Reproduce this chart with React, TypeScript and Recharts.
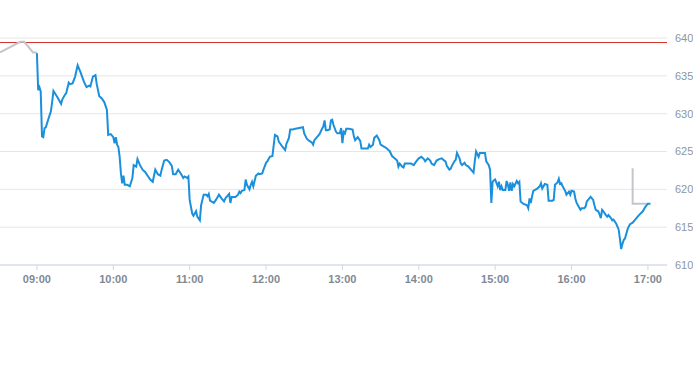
import { LineChart, Line, XAxis, YAxis, CartesianGrid, ReferenceLine } from 'recharts'

// pre-market (grey), main session (blue), after-hours (grey)
const preMarket: [string, number][] = [
  ['08:31', 638.1], ['08:47', 639.5], ['08:50', 639.5], ['08:57', 638.1], ['09:00', 638.1],
]

const session: [string, number][] = [
  ['09:00', 638.0], ['09:01', 633.1], ['09:02', 633.5], ['09:03', 632.9], ['09:04', 627.0],
  ['09:05', 626.9], ['09:06', 628.1], ['09:07', 628.2], ['09:09', 629.3], ['09:11', 630.3],
  ['09:12', 631.6], ['09:13', 633.0], ['09:16', 632.2], ['09:19', 631.3], ['09:20', 631.9],
  ['09:22', 632.5], ['09:23', 632.7], ['09:25', 634.1], ['09:26', 633.9], ['09:28', 634.0],
  ['09:30', 634.9], ['09:32', 636.4], ['09:34', 635.6], ['09:37', 634.2], ['09:39', 633.5],
  ['09:41', 633.7], ['09:42', 633.6], ['09:44', 634.9], ['09:46', 635.1], ['09:47', 633.9],
  ['09:49', 632.3], ['09:51', 632.0], ['09:53', 631.5], ['09:55', 630.5], ['09:56', 627.2],
  ['09:58', 627.3], ['10:00', 626.9], ['10:01', 626.1], ['10:02', 626.9], ['10:03', 625.9],
  ['10:04', 625.6], ['10:05', 624.3], ['10:06', 622.1], ['10:07', 620.8], ['10:08', 621.8],
  ['10:09', 620.6], ['10:11', 620.6], ['10:13', 620.4], ['10:15', 621.5], ['10:16', 623.2],
  ['10:18', 623.0], ['10:19', 624.0], ['10:21', 623.2], ['10:23', 622.6], ['10:25', 622.3],
  ['10:27', 621.8], ['10:29', 621.3], ['10:31', 621.0], ['10:33', 622.6], ['10:35', 622.0],
  ['10:37', 621.8], ['10:38', 622.6], ['10:40', 623.8], ['10:42', 623.9], ['10:44', 623.6],
  ['10:46', 623.1], ['10:47', 622.0], ['10:49', 622.0], ['10:51', 622.6], ['10:53', 622.1],
  ['10:55', 621.5], ['10:56', 621.7], ['10:58', 621.5], ['10:59', 621.7], ['11:00', 618.6],
  ['11:01', 617.7], ['11:02', 616.8], ['11:03', 616.5], ['11:05', 617.1], ['11:06', 616.4],
  ['11:08', 615.9], ['11:09', 617.9], ['11:11', 619.3], ['11:13', 619.3], ['11:14', 619.1],
  ['11:15', 619.4], ['11:16', 618.5], ['11:19', 618.2], ['11:21', 618.7], ['11:23', 619.3],
  ['11:25', 618.8], ['11:27', 618.4], ['11:28', 618.8], ['11:29', 619.0], ['11:31', 619.4],
  ['11:32', 618.2], ['11:33', 619.0], ['11:36', 619.0], ['11:38', 619.3], ['11:39', 619.7],
  ['11:40', 619.5], ['11:41', 619.8], ['11:43', 619.9], ['11:44', 621.3], ['11:45', 620.6],
  ['11:47', 620.0], ['11:48', 620.6], ['11:49', 621.0], ['11:50', 620.4], ['11:52', 621.8],
  ['11:54', 622.1], ['11:55', 622.0], ['11:57', 622.1], ['11:58', 622.6], ['12:00', 623.5],
  ['12:01', 623.7], ['12:03', 624.3], ['12:05', 624.4], ['12:07', 627.2], ['12:09', 627.0],
  ['12:10', 626.3], ['12:13', 625.6], ['12:15', 625.2], ['12:16', 626.0], ['12:18', 626.8],
  ['12:19', 627.9], ['12:21', 627.9], ['12:23', 628.0], ['12:26', 628.1], ['12:29', 628.2],
  ['12:30', 627.4], ['12:32', 626.7], ['12:34', 626.4], ['12:36', 626.2], ['12:37', 625.9],
  ['12:38', 626.5], ['12:40', 626.9], ['12:42', 627.3], ['12:44', 628.0], ['12:45', 628.3],
  ['12:46', 629.1], ['12:47', 627.8], ['12:48', 627.8], ['12:50', 627.9], ['12:51', 629.1],
  ['12:52', 629.2], ['12:53', 628.5], ['12:55', 627.6], ['12:56', 627.4], ['12:58', 627.4],
  ['12:59', 628.1], ['13:00', 626.1], ['13:01', 627.6], ['13:02', 627.4], ['13:03', 628.0],
  ['13:05', 628.0], ['13:08', 627.9], ['13:09', 627.0], ['13:10', 626.5], ['13:12', 626.9],
  ['13:14', 626.4], ['13:15', 625.4], ['13:17', 625.4], ['13:20', 625.4], ['13:21', 625.9],
  ['13:22', 625.6], ['13:24', 625.9], ['13:25', 626.8], ['13:27', 627.1], ['13:29', 626.5],
  ['13:30', 625.9], ['13:33', 625.6], ['13:35', 625.4], ['13:36', 625.2], ['13:37', 625.1],
  ['13:39', 624.4], ['13:41', 624.1], ['13:43', 623.8], ['13:44', 623.0], ['13:45', 623.4],
  ['13:47', 623.0], ['13:48', 622.9], ['13:49', 623.4], ['13:51', 623.4], ['13:54', 623.4],
  ['13:56', 623.2], ['13:58', 623.7], ['14:00', 624.1], ['14:02', 624.3], ['14:04', 624.0],
  ['14:05', 623.7], ['14:07', 624.1], ['14:09', 623.8], ['14:10', 623.4], ['14:12', 623.2],
  ['14:14', 623.8], ['14:16', 624.0], ['14:18', 624.1], ['14:20', 623.8], ['14:21', 623.7],
  ['14:22', 623.1], ['14:24', 622.6], ['14:25', 622.7], ['14:26', 623.1], ['14:28', 623.7],
  ['14:29', 623.9], ['14:30', 624.8], ['14:32', 624.1], ['14:33', 623.4], ['14:34', 623.2],
  ['14:36', 623.5], ['14:37', 623.2], ['14:39', 623.0], ['14:41', 622.6], ['14:43', 622.2],
  ['14:44', 623.7], ['14:45', 625.0], ['14:47', 624.3], ['14:48', 624.8], ['14:50', 624.8],
  ['14:52', 624.8], ['14:53', 623.7], ['14:55', 623.2], ['14:56', 622.6], ['14:57', 618.2],
  ['14:58', 621.0], ['14:59', 621.2], ['15:00', 621.3], ['15:02', 620.4], ['15:03', 621.0],
  ['15:04', 619.9], ['15:05', 620.4], ['15:06', 619.9], ['15:08', 619.9], ['15:09', 621.1],
  ['15:10', 620.6], ['15:11', 619.8], ['15:12', 620.9], ['15:13', 619.8], ['15:14', 620.7],
  ['15:15', 620.4], ['15:17', 621.1], ['15:18', 620.8], ['15:19', 621.0], ['15:20', 618.4],
  ['15:22', 618.1], ['15:25', 617.9], ['15:26', 617.5], ['15:27', 618.8], ['15:28', 618.2],
  ['15:29', 619.1], ['15:30', 619.8], ['15:33', 620.1], ['15:35', 620.4], ['15:36', 620.8],
  ['15:37', 620.1], ['15:39', 620.7], ['15:41', 620.6], ['15:42', 618.5], ['15:45', 618.5],
  ['15:46', 618.6], ['15:47', 620.6], ['15:49', 620.9], ['15:50', 621.4], ['15:51', 620.7],
  ['15:52', 620.8], ['15:53', 620.4], ['15:55', 619.8], ['15:56', 619.3], ['15:58', 619.7],
  ['15:59', 619.3], ['16:00', 619.8], ['16:02', 619.7], ['16:03', 618.8], ['16:04', 618.2],
  ['16:06', 617.6], ['16:07', 617.3], ['16:08', 617.5], ['16:10', 617.5], ['16:11', 617.7],
  ['16:12', 618.4], ['16:14', 618.8], ['16:15', 619.0], ['16:17', 618.6], ['16:18', 617.9],
  ['16:19', 617.3], ['16:21', 617.1], ['16:22', 616.7], ['16:23', 616.2], ['16:24', 617.3],
  ['16:25', 617.1], ['16:27', 616.6], ['16:28', 616.4], ['16:29', 616.6], ['16:31', 616.2],
  ['16:32', 615.9], ['16:33', 616.0], ['16:35', 615.5], ['16:36', 615.1], ['16:37', 614.7],
  ['16:38', 613.5], ['16:39', 612.1], ['16:40', 612.8], ['16:41', 613.3], ['16:42', 613.5],
  ['16:44', 614.7], ['16:45', 615.1], ['16:46', 615.4], ['16:48', 615.6], ['16:50', 616.0],
  ['16:53', 616.6], ['16:56', 617.1], ['16:58', 617.7], ['17:00', 618.1], ['17:02', 618.1],
]

const afterHours: [string, number][] = [
  ['16:48', 622.8], ['16:48', 618.1], ['17:00', 618.1],
]

const previousClose = 639.4
const timeTicks = ['09:00', '10:00', '11:00', '12:00', '13:00', '14:00', '15:00', '16:00', '17:00']
const priceTicks = [610, 615, 620, 625, 630, 635, 640]

const toMin = (s: string) => {
  const [h, m] = s.split(':').map(Number)
  return h * 60 + m
}
const fmt = (v: number) => `${String(Math.floor(v / 60)).padStart(2, '0')}:${String(v % 60).padStart(2, '0')}`
const toRows = (pts: [string, number][]) => pts.map(([t, v]) => ({ t: toMin(t), v }))

const font = '"Liberation Sans", Arial, sans-serif'

export default function App() {
  return (
    <div style={{ position: 'absolute', left: 0, top: 0, background: '#fff' }}>
      <LineChart width={693} height={365} margin={{ top: 38, right: 0, bottom: 70, left: 0 }}>
        <CartesianGrid vertical={false} stroke="#e6e6e6" />
        <XAxis
          type="number"
          dataKey="t"
          domain={[511, 1035]}
          allowDataOverflow
          ticks={timeTicks.map(toMin)}
          tickFormatter={fmt}
          height={30}
          tickSize={5}
          tickMargin={5}
          axisLine={{ stroke: '#ccd6eb' }}
          tickLine={{ stroke: '#ccd6eb' }}
          tick={{ fill: '#7f8a95', fontSize: 11, fontWeight: 'bold', fontFamily: font }}
        />
        <YAxis
          orientation="right"
          domain={[610, 640]}
          ticks={priceTicks}
          width={26}
          axisLine={false}
          tickLine={false}
          tick={{ fill: '#8c96a0', fontSize: 11, fontFamily: font }}
        />
        <ReferenceLine y={previousClose} stroke="#d0312d" strokeWidth={1} />
        <Line data={toRows(preMarket)} dataKey="v" stroke="#c2c6cb" strokeWidth={2} dot={false} isAnimationActive={false} />
        <Line data={toRows(afterHours)} dataKey="v" stroke="#c2c6cb" strokeWidth={2} dot={false} isAnimationActive={false} />
        <Line data={toRows(session)} dataKey="v" stroke="#1a90dc" strokeWidth={2} dot={false} isAnimationActive={false} />
      </LineChart>
    </div>
  )
}
